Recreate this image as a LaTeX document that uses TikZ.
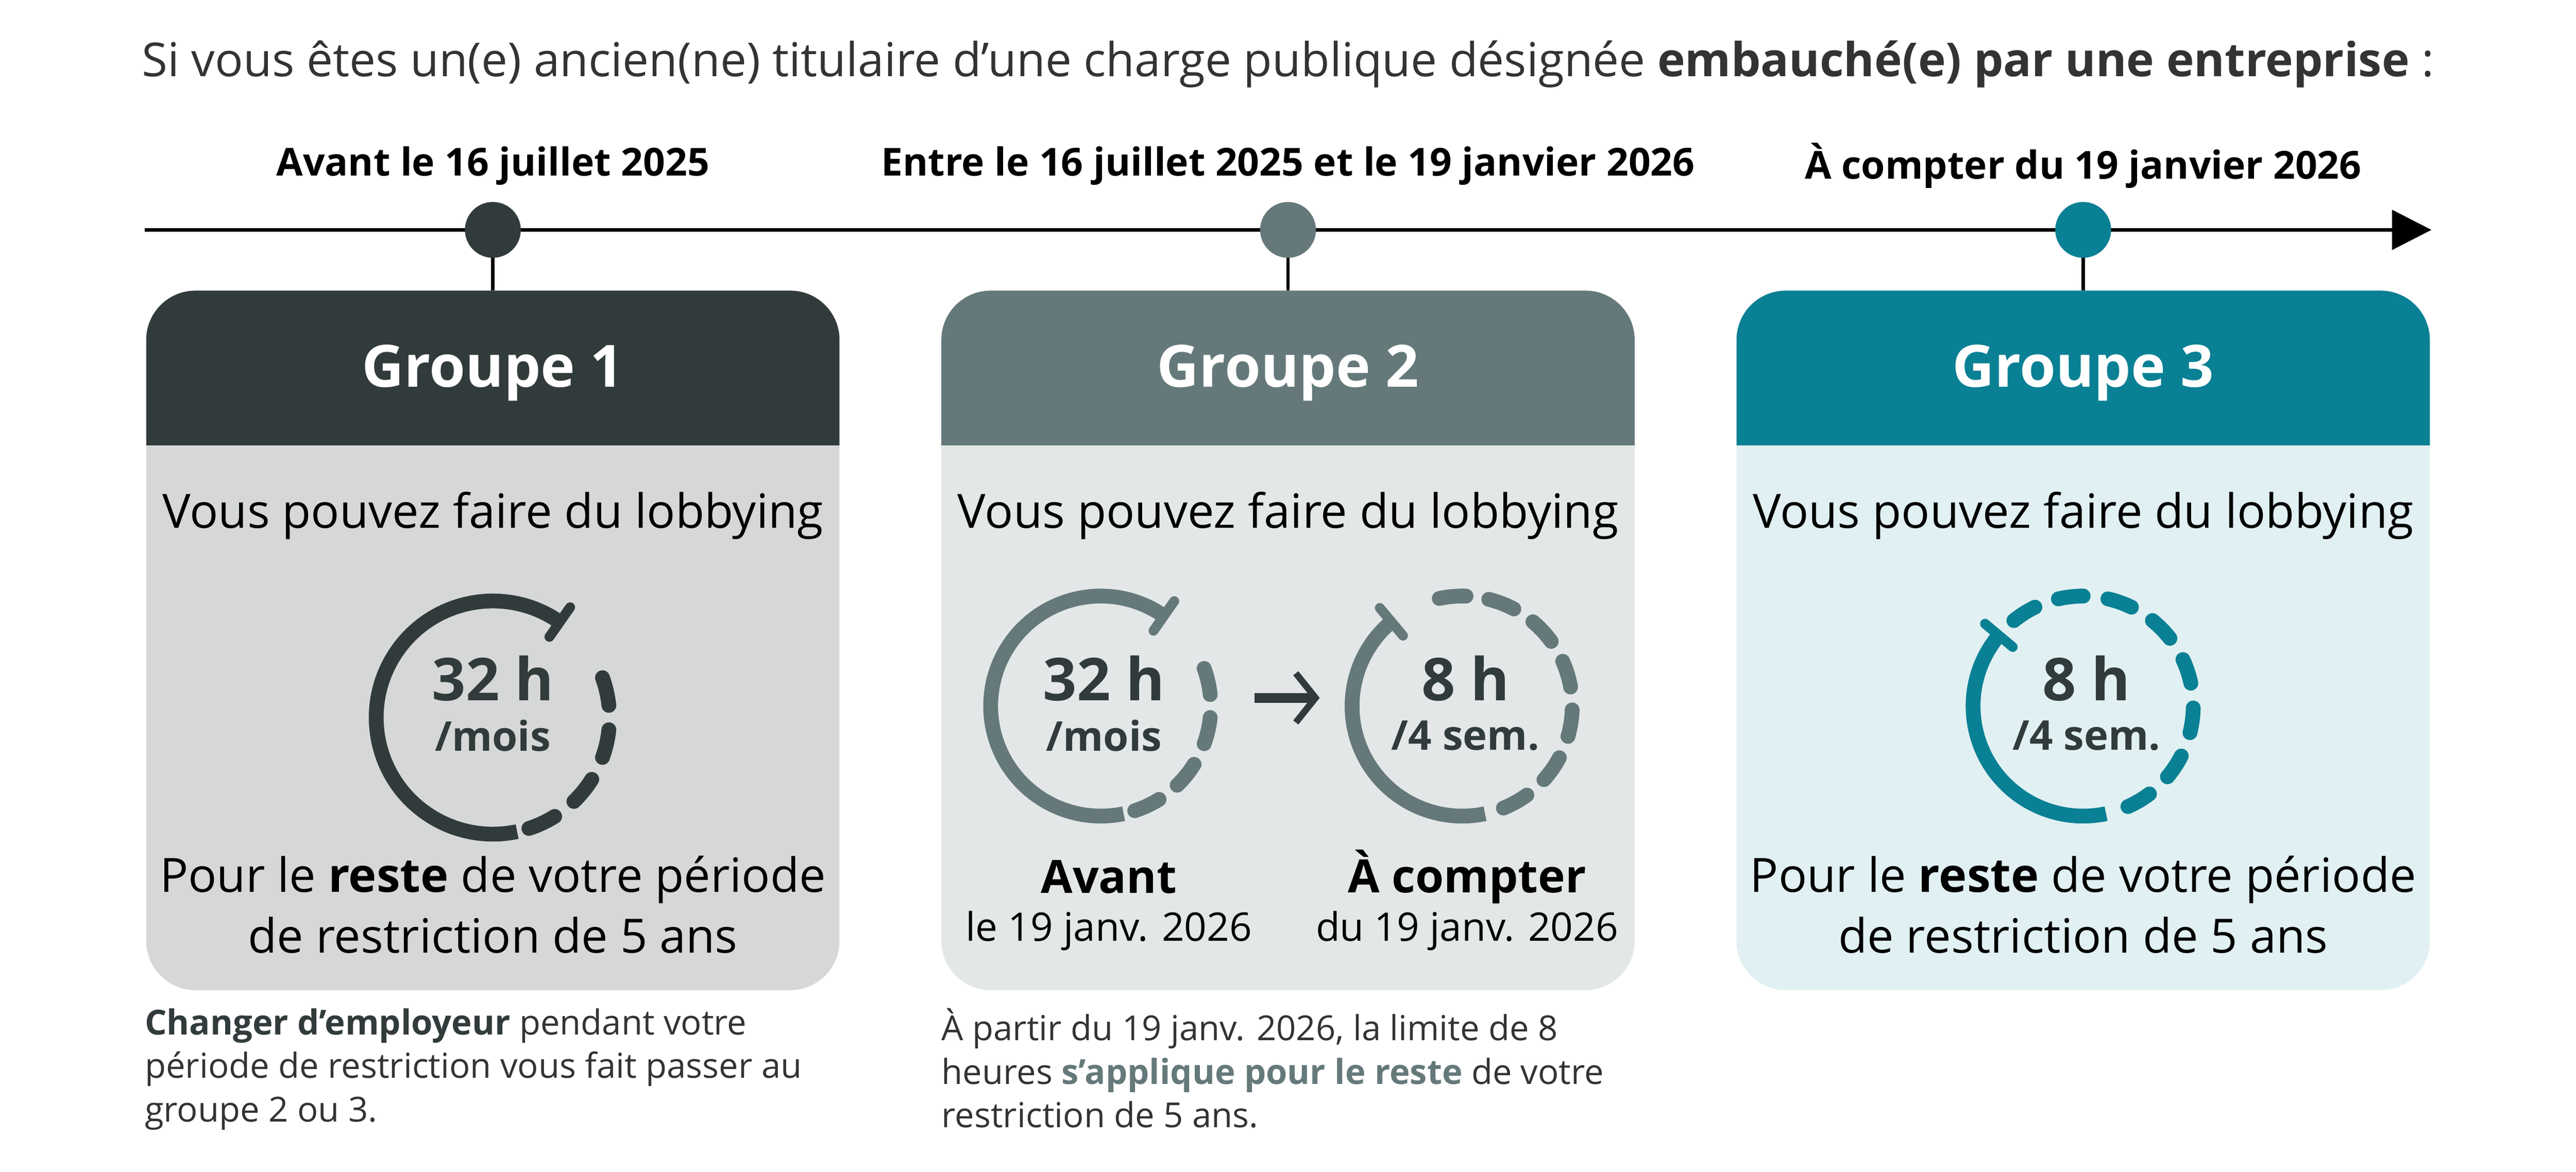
\documentclass[tikz,border=0pt]{standalone}
\usepackage{fontspec}
\setmainfont{Open Sans}
\usetikzlibrary{arrows.meta}
\definecolor{gA}{HTML}{323B3B}
\definecolor{gB}{HTML}{65797A}
\definecolor{gC}{HTML}{0A8094}
\definecolor{bA}{HTML}{D6D8D8}
\definecolor{bB}{HTML}{E3E7E7}
\definecolor{bC}{HTML}{E1F0F2}
\definecolor{txt}{HTML}{333333}
\tikzset{
  title/.style={font=\fontsize{28.5}{32}\selectfont, text=txt},
  datelbl/.style={font=\fontsize{23.5}{28}\selectfont\bfseries, text=black},
  hdr/.style={font=\fontsize{35.5}{40}\selectfont\bfseries, text=white},
  body/.style={font=\fontsize{28.8}{37}\selectfont, text=black, align=center},
  big/.style={font=\fontsize{36}{40}\selectfont\bfseries, text=gA},
  small/.style={font=\fontsize{25}{28}\selectfont\bfseries, text=gA},
  sub/.style={font=\fontsize{24}{28}\selectfont, text=black},
  subb/.style={font=\fontsize{28}{32}\selectfont\bfseries, text=black},
  note/.style={font=\fontsize{21}{26.5}\selectfont, text=txt, align=left, anchor=north west, inner sep=0pt},
  ring/.style={line width=9pt},
  dsh/.style={line width=9pt, line cap=round},
}
\begin{document}
\begin{tikzpicture}[x=1pt,y=-1pt]
\useasboundingbox[fill=white] (0,0) rectangle (1568,713.6);
\node[title] (ttl) at (784,39) {Si vous êtes un(e) ancien(ne) titulaire d’une charge publique désignée \textbf{embauché(e) par une entreprise} :};
% timeline
\coordinate (tl0) at (88,140);
\coordinate (tl1) at (1480,140);
\draw[line width=2.2pt, -{Triangle[length=24pt,width=24pt]}] (tl0) -- (tl1);
\foreach \cx/\col/\bcol/\dt/\i in {300/gA/bA/{Avant le 16 juillet 2025}/1, 784/gB/bB/{Entre le 16 juillet 2025 et le 19 janvier 2026}/2, 1268/gC/bC/{À compter du 19 janvier 2026}/3}{
  \node[datelbl] (d\i) at (\cx,101) {\dt};
  \fill[\bcol, rounded corners=30pt] (\cx-211,177) rectangle (\cx+211,603);
  \begin{scope}
    \clip (\cx-212,176) rectangle (\cx+212,271);
    \fill[\col, rounded corners=30pt] (\cx-211,177) rectangle (\cx+211,603);
  \end{scope}
  \draw[line width=2pt] (\cx,140) -- (\cx,177);
  \node[circle, fill=\col, minimum size=34pt, inner sep=0pt] (dot\i) at (\cx,140) {};
  \node[hdr] (h\i) at (\cx,227) {Groupe \i};
  \node[body] (v\i) at (\cx,314) {Vous pouvez faire du lobbying};
}
% Group 1 clock
\begin{scope}[shift={(300,437)}, yscale=-1]
\draw[ring, gA] (55:71) arc[start angle=55, end angle=282, radius=71];
\draw[line width=6pt, gA, line cap=round] (55:60) -- (55:82);
\foreach \a in {20,-6,-32,-58}{
  \draw[dsh, gA] (\a:71) arc[start angle=\a, end angle=\a-14, radius=71];
}
\end{scope}
\node[big] (n1) at (300,413) {32 h};
\node[small] (m1) at (300,448) {/mois};
\node[body] (r1) at (300,551) {Pour le \textbf{reste} de votre période\\de restriction de 5 ans};
% Group 2 clocks
\begin{scope}[shift={(670,430)}, yscale=-1]
\draw[ring, gB] (55:67) arc[start angle=55, end angle=282, radius=67];
\draw[line width=6pt, gB, line cap=round] (55:56) -- (55:78);
\foreach \a in {20,-6,-32,-58}{
  \draw[dsh, gB] (\a:67) arc[start angle=\a, end angle=\a-14, radius=67];
}
\end{scope}
\node[big] (n2) at (672,413) {32 h};
\node[small] (m2) at (672,448) {/mois};
\node[inner sep=0pt] (ar0) at (763,425) {};
\node[inner sep=0pt] (ar1) at (804,425) {};
\draw[line width=6pt, gA, -{Straight Barb[length=12pt,width=30pt,line width=4pt]}] (ar0) -- (ar1);
\begin{scope}[shift={(890,430)}, yscale=-1]
\draw[ring, gB] (130:67) arc[start angle=130, end angle=282, radius=67];
\draw[line width=6pt, gB, line cap=round] (130:56) -- (130:78);
\foreach \a in {-68,-42,-16,10,36,62,88}{
  \draw[dsh, gB] (\a:67) arc[start angle=\a, end angle=\a+14, radius=67];
}
\end{scope}
\node[big] (n3) at (892,413) {8 h};
\node[small] (m3) at (892,448) {/4 sem.};
\node[subb] (av) at (675,534) {Avant};
\node[sub] (av2) at (675,567) {le 19 janv. 2026};
\node[subb] (ac) at (893,534) {À compter};
\node[sub] (ac2) at (893,567) {du 19 janv. 2026};
% Group 3 clock
\begin{scope}[shift={(1268,430)}, yscale=-1]
\draw[ring, gC] (140:67) arc[start angle=140, end angle=282, radius=67];
\draw[line width=6pt, gC, line cap=round] (140:56) -- (140:78);
\foreach \a in {-66,-40,-14,12,38,64,90,116}{
  \draw[dsh, gC] (\a:67) arc[start angle=\a, end angle=\a+13, radius=67];
}
\end{scope}
\node[big] (n4) at (1270,413) {8 h};
\node[small] (m4) at (1270,448) {/4 sem.};
\node[body] (r3) at (1268,551) {Pour le \textbf{reste} de votre période\\de restriction de 5 ans};
% notes
\node[note] (nt1) at (88,614) {\textbf{\color{gA}Changer d’employeur} pendant votre\\période de restriction vous fait passer au\\groupe 2 ou 3.};
\node[note] (nt2) at (573,614) {À partir du 19 janv. 2026, la limite de 8\\heures \textbf{\color{gB}s’applique pour le reste} de votre\\restriction de 5 ans.};
\end{tikzpicture}
\end{document}
